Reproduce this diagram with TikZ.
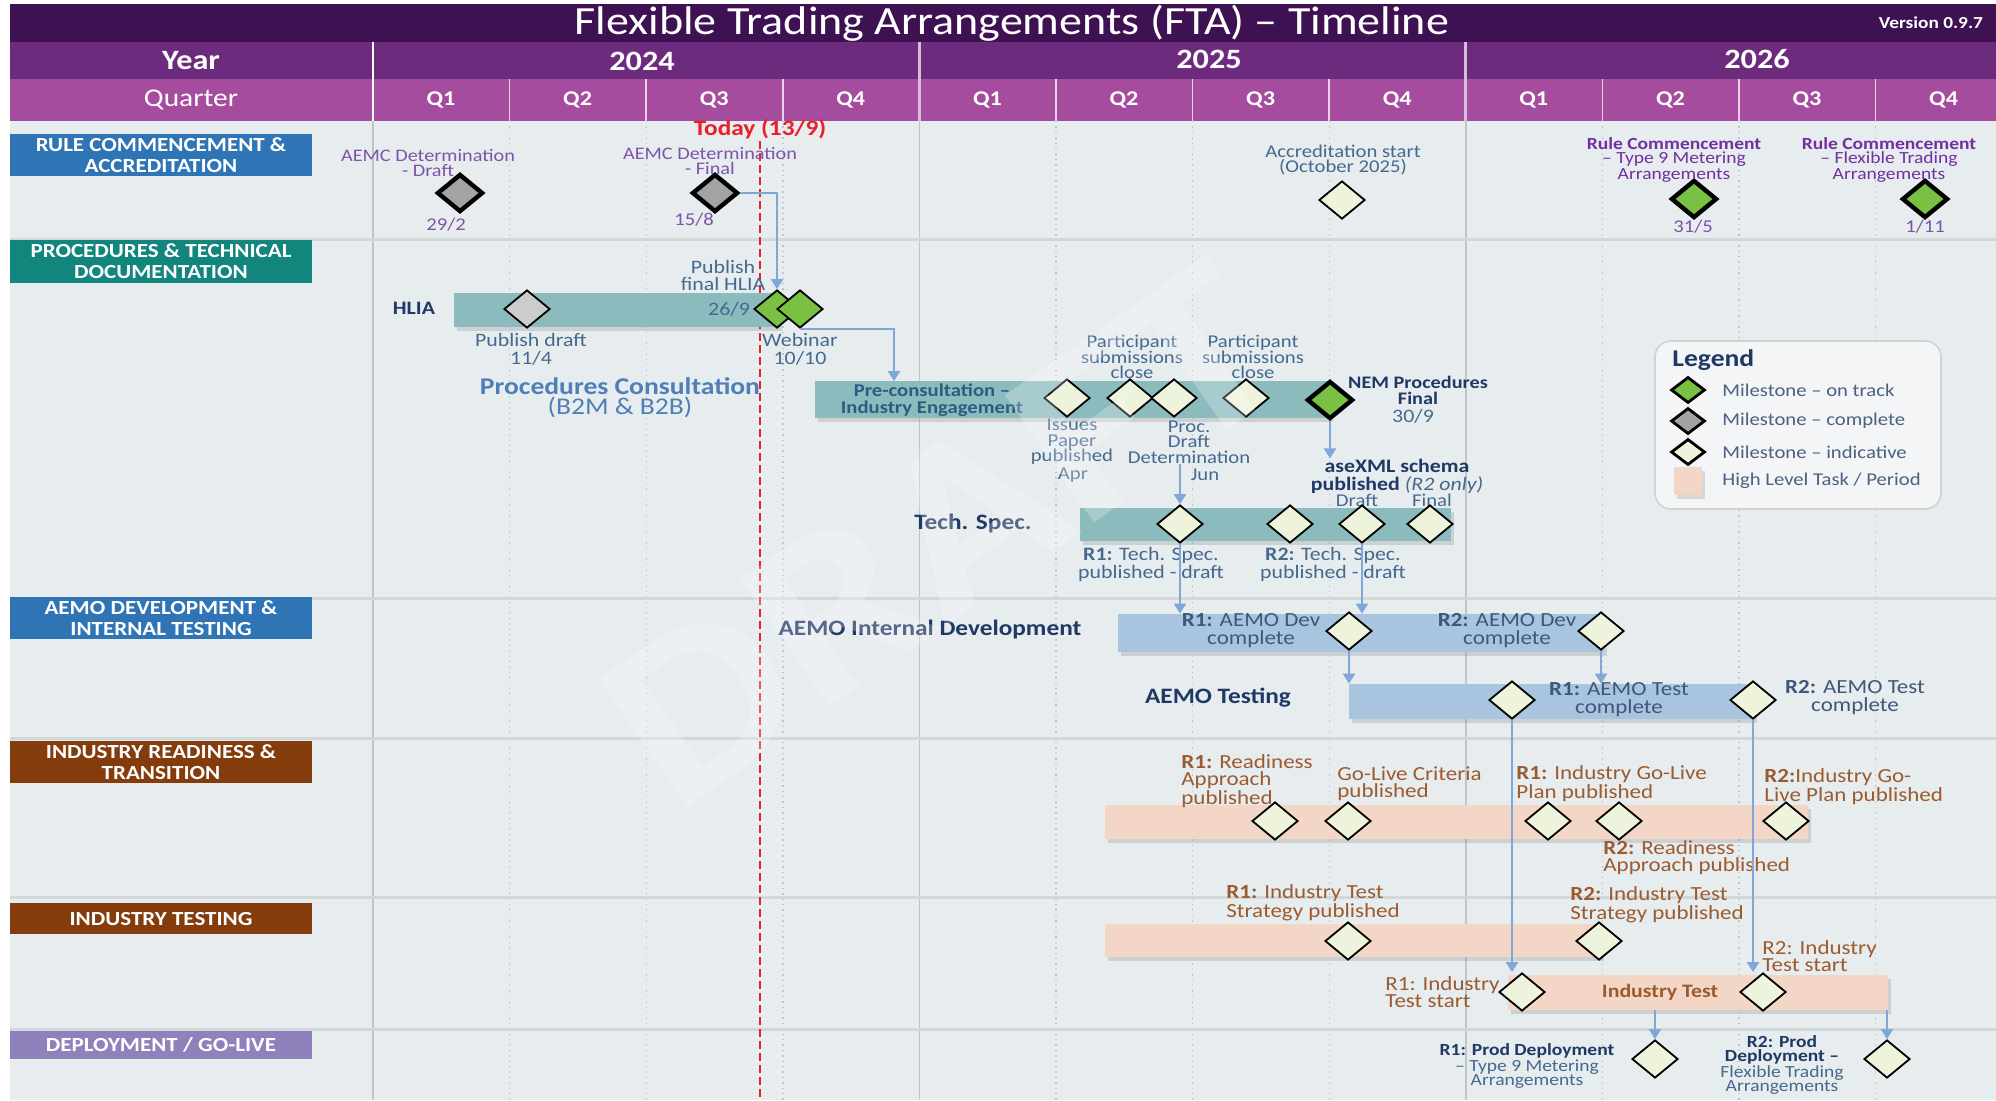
\documentclass[tikz,border=0pt]{standalone}
\usepackage{fontspec}
\setmainfont{Carlito}[FakeStretch=1.15]
\usepackage{tikz}
\usetikzlibrary{shapes.geometric, arrows.meta, fit, shadows}

\definecolor{titlebg}{HTML}{3E1153}
\definecolor{yearbg}{HTML}{6C2B7D}
\definecolor{qtrbg}{HTML}{A54C9E}
\definecolor{bodybg}{HTML}{E7ECEF}
\definecolor{gridc}{HTML}{BFC5CA}
\definecolor{lanesep}{HTML}{D2D7DA}
\definecolor{laneblue}{HTML}{2F75B5}
\definecolor{laneteal}{HTML}{12857D}
\definecolor{lanebrown}{HTML}{843C0C}
\definecolor{lanelilac}{HTML}{8F82BC}
\definecolor{barteal}{HTML}{8CBBBE}
\definecolor{barblue}{HTML}{A9C4DE}
\definecolor{barpeach}{HTML}{F3D6C6}
\definecolor{msgreen}{HTML}{7AC143}
\definecolor{msgray}{HTML}{A3A3A3}
\definecolor{mscream}{HTML}{EEF3DC}
\definecolor{linkblue}{HTML}{7FA7D8}
\definecolor{txtpurple}{HTML}{7E54A6}
\definecolor{txtrule}{HTML}{7030A0}
\definecolor{txtblue}{HTML}{45698F}
\definecolor{txtnavy}{HTML}{1F3864}
\definecolor{txtproc}{HTML}{4F7FB8}
\definecolor{txtprecon}{HTML}{2B5D80}
\definecolor{txtbrown}{HTML}{9C5B2E}
\definecolor{todayred}{HTML}{E8202A}
\definecolor{legendbg}{HTML}{F3F5F6}

\tikzset{
  ms/.style = {diamond, draw = black, line width = 0.9pt, inner sep = 0pt, minimum width = 23pt, minimum height = 19pt},
  ontrack/.style = {ms, fill = msgreen},
  done/.style = {ms, fill = msgray},
  indic/.style = {ms, fill = mscream},
  heavy/.style = {line width = 2.2pt},
  lane/.style = {fill = #1, inner sep = 0pt},
  lanetxt/.style = {inner sep = 0pt, text = white, align = center, font = \fontsize{10}{10.5}\selectfont\bfseries},
  taskbar/.style = {fill = #1, inner sep = 0pt, drop shadow = {opacity = 0.25, shadow xshift = 1.5pt, shadow yshift = -2pt}},
  lbl/.style = {inner sep = 0pt, align = center, text = txtblue, font = \fontsize{9}{7.8}\selectfont},
  blbl/.style = {lbl, align = left, text = txtbrown, font = \fontsize{10}{8.4}\selectfont},
  boldlbl/.style = {lbl, text = txtnavy, font = \fontsize{11}{12}\selectfont\bfseries},
  lgtxt/.style = {inner sep = 0pt, text = txtnavy!80, font = \fontsize{9}{10}\selectfont},
  link/.style = {draw = linkblue, line width = 1.1pt, -{Triangle[length = 5pt, width = 6pt]}},
  hdr/.style = {text = white, font = \fontsize{14}{16}\selectfont\bfseries},
  qtr/.style = {text = white, font = \fontsize{10.5}{12}\selectfont\bfseries}
}

\begin{document}
\begin{tikzpicture}[x = 0.5pt, y = -0.5pt]
\useasboundingbox (0,0) rectangle (1996,1100);
\fill[white] (0,0) rectangle (1996,1100);

\fill[titlebg] (10,4) rectangle (1996,42);
\fill[yearbg] (10,42) rectangle (1996,79);
\fill[qtrbg] (10,79) rectangle (1996,121);
\fill[bodybg] (10,121) rectangle (1996,1100);

\draw[white, line width = 1pt] (373,42) -- (373,121);
\foreach \k in {1,2,3,5,6,7,9,10,11}
  \draw[white!75!qtrbg, line width = 0.8pt] ({373+136.6*\k},79) -- ({373+136.6*\k},121);
\foreach \k in {4,8}
  \draw[white!70!yearbg, line width = 1.4pt] ({373+136.6*\k},42) -- ({373+136.6*\k},121);

\node[text = white, font = \fontsize{20}{22}\selectfont] (title) at (1012,23) {Flexible Trading Arrangements (FTA) -- Timeline};
\node[anchor = east, text = white, font = \fontsize{8.4}{10}\selectfont\bfseries] (version) at (1990,23) {Version 0.9.7};
\node[hdr] (yearlbl) at (191,61) {Year};
\node[hdr] (y2024) at (642,61) {2024};
\node[hdr] (y2025) at (1209,59) {2025};
\node[hdr] (y2026) at (1757,59) {2026};
\node[text = white, font = \fontsize{12.8}{14}\selectfont] (qtrlbl) at (191,100) {Quarter};
\foreach \q [count = \i from 0] in {1,2,3,4,1,2,3,4,1,2,3,4}
  \node[qtr] (qlab\i) at ({441+136.6*\i},100) {Q\q};

\foreach \k in {1,2,3,5,6,7,9,10,11}
  \draw[gridc, dotted, line width = 0.7pt] ({373+136.6*\k},121) -- ({373+136.6*\k},1100);
\foreach \k in {0,4,8}
  \draw[gridc, line width = 0.8pt] ({373+136.6*\k},121) -- ({373+136.6*\k},1100);
\foreach \y in {239,598,738,897,1029}
  \draw[lanesep, line width = 1.5pt] (10,\y) -- (1996,\y);

\node[lane = laneblue, fit = {(10,134) (312,176)}] (rulelane) {};
\node[lanetxt] (rulelanetxt) at (rulelane.center) {RULE COMMENCEMENT \&\\ACCREDITATION};
\node[lane = laneteal, fit = {(10,240) (312,283)}] (proclane) {};
\node[lanetxt] (proclanetxt) at (proclane.center) {PROCEDURES \& TECHNICAL\\DOCUMENTATION};
\node[lane = laneblue, fit = {(10,597) (312,639)}] (aemolane) {};
\node[lanetxt] (aemolanetxt) at (aemolane.center) {AEMO DEVELOPMENT \&\\INTERNAL TESTING};
\node[lane = lanebrown, fit = {(10,741) (312,783)}] (readylane) {};
\node[lanetxt] (readylanetxt) at (readylane.center) {INDUSTRY READINESS \&\\TRANSITION};
\node[lane = lanebrown, fit = {(10,903) (312,934)}] (testlane) {};
\node[lanetxt] (testlanetxt) at (testlane.center) {INDUSTRY TESTING};
\node[lane = lanelilac, fit = {(10,1031) (312,1059)}] (deploylane) {};
\node[lanetxt] (deploylanetxt) at (deploylane.center) {DEPLOYMENT / GO-LIVE};

\node[text = todayred, inner sep = 1pt, font = \fontsize{11}{12}\selectfont\bfseries] (today) at (760,129) {Today (13/9)};
\coordinate (todayend) at (760,1100);
\draw[todayred, dash pattern = on 4pt off 2pt, line width = 1.3pt] (today.south) -- (todayend);

\node[done, heavy] (detdraft) at (460,193) {};
\node[lbl, text = txtpurple, font = \fontsize{8.8}{7.5}\selectfont] (detdraftlbl) at (428,163) {AEMC Determination\\- Draft};
\node[lbl, text = txtpurple] (detdraftdate) at (446,225) {29/2};
\node[done, heavy] (detfinal) at (715,193) {};
\node[lbl, text = txtpurple, font = \fontsize{8.8}{7.5}\selectfont] (detfinallbl) at (710,161) {AEMC Determination\\- Final};
\node[lbl, text = txtpurple] (detfinaldate) at (694,220) {15/8};
\node[indic] (accr) at (1342,200) {};
\node[lbl] (accrlbl) at (1343,160) {Accreditation start\\(October 2025)};
\node[ontrack, heavy] (rc9) at (1694,199) {};
\node[lbl, text = txtrule, font = \fontsize{8.5}{6.8}\selectfont] (rc9lbl) at (1674,160) {\textbf{Rule Commencement}\\-- Type 9 Metering\\Arrangements};
\node[lbl, text = txtpurple] (rc9date) at (1693,227) {31/5};
\node[ontrack, heavy] (rcfta) at (1925,199) {};
\node[lbl, text = txtrule, font = \fontsize{8.5}{6.8}\selectfont] (rcftalbl) at (1889,160) {\textbf{Rule Commencement}\\-- Flexible Trading\\Arrangements};
\node[lbl, text = txtpurple] (rcftadate) at (1925,227) {1/11};

\node[lbl, text = txtnavy, font = \fontsize{9.5}{10}\selectfont\bfseries] (hlialbl) at (414,308) {HLIA};
\node[taskbar = barteal, fit = {(454,293) (779,327)}] (hliabar) {};
\node[done, fill = msgray!55!white] (pubdraft) at (527,309) {};
\node[lbl, font = \fontsize{9.5}{9}\selectfont] (pubdraftlbl) at (531,349) {Publish draft\\11/4};
\node[lbl, font = \fontsize{9.5}{8.5}\selectfont] (pubfinallbl) at (723,275) {Publish\\final HLIA};
\node[lbl, font = \fontsize{9.5}{9}\selectfont] (pubfinaldate) at (729,309) {26/9};
\node[ontrack] (hliafinal) at (777,309) {};
\node[ontrack] (webinar) at (800,309) {};
\node[lbl, font = \fontsize{9.5}{9}\selectfont] (webinarlbl) at (800,349) {Webinar\\10/10};
\draw[link] (detfinal.east) -| (hliafinal.north);

\node[lbl, text = txtproc, font = \fontsize{12}{10}\selectfont] (proclbl) at (620,398) {\textbf{Procedures Consultation}\\(B2M \& B2B)};
\node[taskbar = barteal, fit = {(815,381) (1330,418)}] (preconbar) {};
\coordinate (preconin) at (894,381);
\draw[link] (webinar.south) -| (preconin);
\node[lbl, text = txtprecon, font = \fontsize{9}{8.5}\selectfont\bfseries] (preconlbl) at (932,400) {Pre-consultation --\\Industry Engagement};
\node[indic] (issues) at (1067,398) {};
\node[indic] (partsub1) at (1130,398) {};
\node[indic] (procdraft) at (1174,398) {};
\node[indic] (partsub2) at (1246,398) {};
\node[ontrack, heavy] (nemfinal) at (1330,400) {};
\node[lbl] (partsub1lbl) at (1132,357) {Participant\\submissions\\close};
\node[lbl] (partsub2lbl) at (1253,357) {Participant\\submissions\\close};
\node[lbl] (issueslbl) at (1072,442) {Issues\\Paper\\published};
\node[lbl] (issuesmonth) at (1073,475) {Apr};
\node[lbl] (procdraftlbl) at (1189,442) {Proc.\\Draft\\Determination};
\node[lbl] (procdraftmonth) at (1205,475) {Jun};
\node[lbl, text = txtnavy, font = \fontsize{8.8}{8}\selectfont\bfseries] (nemlbl) at (1418,390) {NEM Procedures\\Final};
\node[lbl, font = \fontsize{9.5}{9}\selectfont] (nemdate) at (1413,416) {30/9};
\node[lbl, text = txtnavy, font = \fontsize{9.5}{9}\selectfont] (asexmllbl) at (1397,476) {\textbf{aseXML schema}\\\textbf{published} {\color{txtblue}\textit{(R2 only)}}};
\draw[link] (nemfinal.south) -- (nemfinal.south |- asexmllbl.north);
\node[lbl] (draftlbl) at (1357,500) {Draft};
\node[lbl] (finallbl) at (1432,500) {Final};

\node[boldlbl] (techlbl) at (973,523) {Tech. Spec.};
\node[taskbar = barteal, fit = {(1080,508) (1451,541)}] (techbar) {};
\node[indic] (ts1) at (1180,524) {};
\node[indic] (ts2) at (1290,524) {};
\node[indic] (xmldraft) at (1362,524) {};
\node[indic] (xmlfinal) at (1430,524) {};
\node[lbl, font = \fontsize{9.5}{9}\selectfont] (ts1lbl) at (1151,564) {\textbf{R1:} Tech. Spec.\\published - draft};
\node[lbl, font = \fontsize{9.5}{9}\selectfont] (ts2lbl) at (1333,564) {\textbf{R2:} Tech. Spec.\\published - draft};
\draw[link] (ts1.north |- procdraftlbl.south) -- (ts1.north);

\node[boldlbl] (devlbl) at (930,629) {AEMO Internal Development};
\node[taskbar = barblue, fit = {(1118,614) (1604,652)}] (devbar) {};
\draw[link] (ts1.south) -- (ts1.south |- devbar.north);
\draw[link] (xmldraft.south) -- (xmldraft.south |- devbar.north);
\node[lbl, text = txtnavy!85, font = \fontsize{10}{9}\selectfont] (dev1lbl) at (1251,631) {\textbf{R1:} AEMO Dev\\complete};
\node[indic] (dev1) at (1349,631) {};
\node[lbl, text = txtnavy!85, font = \fontsize{10}{9}\selectfont] (dev2lbl) at (1507,631) {\textbf{R2:} AEMO Dev\\complete};
\node[indic] (dev2) at (1601,631) {};

\node[boldlbl] (testlbl) at (1218,698) {AEMO Testing};
\node[taskbar = barblue, fit = {(1349,684) (1754,719)}] (testbar) {};
\draw[link] (dev1.south) -- (dev1.south |- testbar.north);
\draw[link] (dev2.south) -- (dev2.south |- testbar.north);
\node[indic] (test1) at (1512,700) {};
\node[indic] (test2) at (1753,700) {};
\node[lbl, text = txtnavy!85, font = \fontsize{10}{9}\selectfont] (test1lbl) at (1619,700) {\textbf{R1:} AEMO Test\\complete};
\node[lbl, text = txtnavy!85, font = \fontsize{10}{9}\selectfont] (test2lbl) at (1855,698) {\textbf{R2:} AEMO Test\\complete};

\node[taskbar = barpeach, fit = {(1105,805) (1808,839)}] (readybar) {};
\node[indic] (rd1) at (1275,821) {};
\node[indic] (golive) at (1348,821) {};
\node[indic] (plan1) at (1548,821) {};
\node[indic] (rd2) at (1619,821) {};
\node[indic] (plan2) at (1786,821) {};
\node[blbl, anchor = west] (rd1lbl) at (1181,781) {\textbf{R1:} Readiness\\Approach\\published};
\node[blbl, anchor = west] (golivelbl) at (1337,784) {Go-Live Criteria\\published};
\node[blbl, anchor = west] (plan1lbl) at (1516,784) {\textbf{R1:} Industry Go-Live\\Plan published};
\node[blbl, anchor = west] (plan2lbl) at (1764,787) {\textbf{R2:}Industry Go-\\Live Plan published};
\node[blbl, anchor = west] (rd2lbl) at (1603,858) {\textbf{R2:} Readiness\\Approach published};

\node[taskbar = barpeach, fit = {(1105,924) (1601,957)}] (stratbar) {};
\node[indic] (strat1) at (1348,941) {};
\node[indic] (strat2) at (1599,941) {};
\node[blbl, anchor = west] (strat1lbl) at (1226,903) {\textbf{R1:} Industry Test\\Strategy published};
\node[blbl, anchor = west] (strat2lbl) at (1570,905) {\textbf{R2:} Industry Test\\Strategy published};

\node[taskbar = barpeach, fit = {(1508,975) (1888,1010)}] (itbar) {};
\node[blbl, font = \fontsize{9.5}{10}\selectfont\bfseries] (itlbl) at (1660,992) {Industry Test};
\node[indic] (itstart1) at (1522,992) {};
\node[indic] (itstart2) at (1763,992) {};
\node[blbl, anchor = east] (itstart1lbl) at (1500,992) {R1: Industry\\Test start};
\node[blbl, anchor = west] (itstart2lbl) at (1762,956) {R2: Industry\\Test start};
\draw[link] (test1.south) -- (test1.south |- itstart1.north);
\draw[link] (test2.south) -- (test2.south |- itstart2.north);

\node[indic] (prod1) at (1655,1059) {};
\node[indic] (prod2) at (1887,1059) {};
\draw[link] (prod1.north |- itbar.south) -- (prod1.north);
\draw[link] (prod2.north |- itbar.south) -- (prod2.north);
\node[lbl, text = txtnavy, font = \fontsize{8.5}{7}\selectfont] (prod1lbl) at (1527,1066) {\textbf{R1: Prod Deployment}\\{\color{txtblue}-- Type 9 Metering}\\{\color{txtblue}Arrangements}};
\node[lbl, text = txtnavy, font = \fontsize{8.5}{7}\selectfont] (prod2lbl) at (1782,1065) {\textbf{R2: Prod}\\\textbf{Deployment --}\\{\color{txtblue}Flexible Trading}\\{\color{txtblue}Arrangements}};

\node[draw = gray!35, fill = legendbg, rounded corners = 8pt, line width = 0.8pt, inner sep = 0pt, fit = {(1655,341) (1941,509)}] (legend) {};
\node[anchor = west, inner sep = 0pt, text = txtnavy, font = \fontsize{12}{14}\selectfont\bfseries] (legendttl) at (1672,360) {Legend};
\node[ontrack, minimum width = 17pt, minimum height = 13pt, line width = 1.4pt] (lgtrack) at (1688,390) {};
\node[lgtxt, anchor = west] (lgtracktxt) at (1722,390) {Milestone -- on track};
\node[done, minimum width = 17pt, minimum height = 13pt, line width = 1.4pt] (lgdone) at (1688,421) {};
\node[lgtxt, anchor = west] (lgdonetxt) at (1722,421) {Milestone -- complete};
\node[indic, minimum width = 17pt, minimum height = 13pt, line width = 1.4pt] (lgindic) at (1688,452) {};
\node[lgtxt, anchor = west] (lgindictxt) at (1722,452) {Milestone -- indicative};
\node[taskbar = barpeach, minimum width = 14pt, minimum height = 14pt] (lgtask) at (1688,481) {};
\node[lgtxt, anchor = west] (lgtasktxt) at (1722,481) {High Level Task / Period};

\node[rotate = 35, text = white, opacity = 0.25, font = \fontsize{120}{120}\selectfont\bfseries] (draftmark) at (942,535) {DRAFT};
\end{tikzpicture}
\end{document}
